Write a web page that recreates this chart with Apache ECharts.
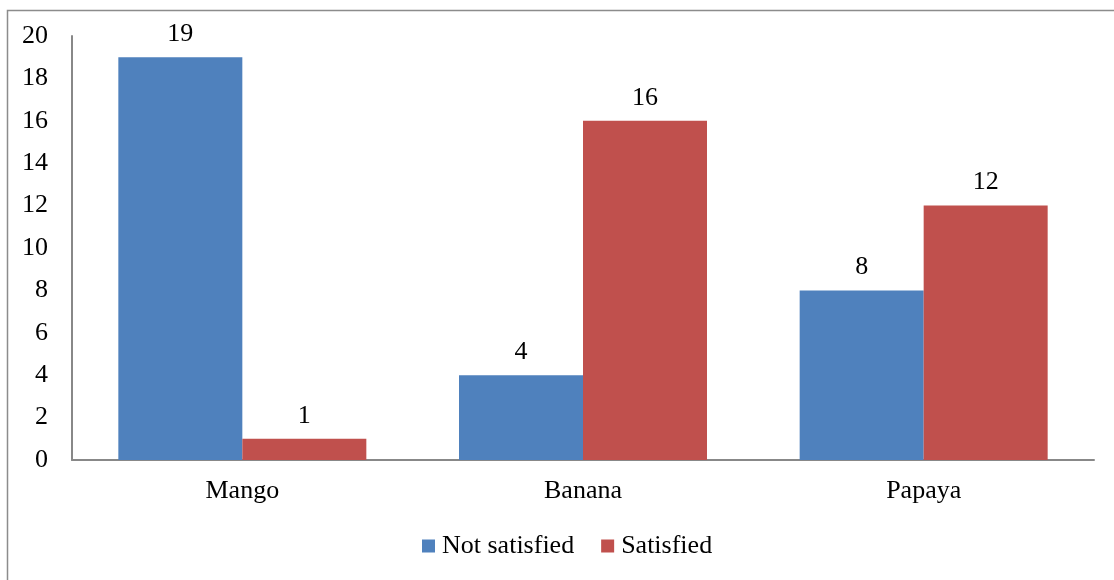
<!DOCTYPE html>
<html>
<head>
<meta charset="utf-8">
<script src="https://cdn.jsdelivr.net/npm/echarts@6/dist/echarts.min.js"></script>
<style>
  html, body { margin: 0; padding: 0; background: #fff; }
  #chart { width: 1114px; height: 580px; }
</style>
</head>
<body>
<div id="chart"></div>
<script>
// Fruit satisfaction survey counts
const categories = ['Mango', 'Banana', 'Papaya'];
const notSatisfied = [19, 4, 8];
const satisfied = [1, 16, 12];
const seriesNames = ['Not satisfied', 'Satisfied'];

const FONT = "'Liberation Serif', 'Times New Roman', serif";
const chart = echarts.init(document.getElementById('chart'));

const labelStyle = {
  show: true,
  position: 'top',
  distance: 10,
  color: '#000',
  fontFamily: FONT,
  fontSize: 26
};

chart.setOption({
  animation: false,
  backgroundColor: '#fff',
  graphic: [{
    type: 'rect',
    left: 5, top: 8,
    shape: { width: 1200, height: 700 },
    style: { fill: 'none', stroke: '#8c8c8c', lineWidth: 1.5 },
    silent: true
  }],
  grid: { left: 72, right: 20, top: 36, bottom: 120 },
  legend: {
    data: seriesNames,
    left: 422,
    top: 533,
    padding: 0,
    itemWidth: 13,
    itemHeight: 13,
    itemGap: 27,
    icon: 'rect',
    textStyle: { fontFamily: FONT, fontSize: 26, color: '#000', padding: [0, 0, 0, 2] }
  },
  xAxis: {
    type: 'category',
    data: categories,
    axisLine: { lineStyle: { color: '#888', width: 2 } },
    axisTick: { show: false },
    axisLabel: { color: '#000', fontFamily: FONT, fontSize: 26, margin: 18 }
  },
  yAxis: {
    type: 'value',
    min: 0, max: 20, interval: 2,
    axisLine: { show: true, lineStyle: { color: '#888', width: 2 } },
    axisTick: { show: false },
    splitLine: { show: false },
    axisLabel: { color: '#000', fontFamily: FONT, fontSize: 26, margin: 24, padding: [6, 0, 0, 0] }
  },
  series: [
    {
      name: seriesNames[0], type: 'bar', data: notSatisfied,
      barWidth: 124, barGap: '0%',
      itemStyle: { color: '#4F81BD' },
      label: labelStyle
    },
    {
      name: seriesNames[1], type: 'bar', data: satisfied,
      barWidth: 124,
      itemStyle: { color: '#C0504D' },
      label: labelStyle
    }
  ]
});
</script>
</body>
</html>
